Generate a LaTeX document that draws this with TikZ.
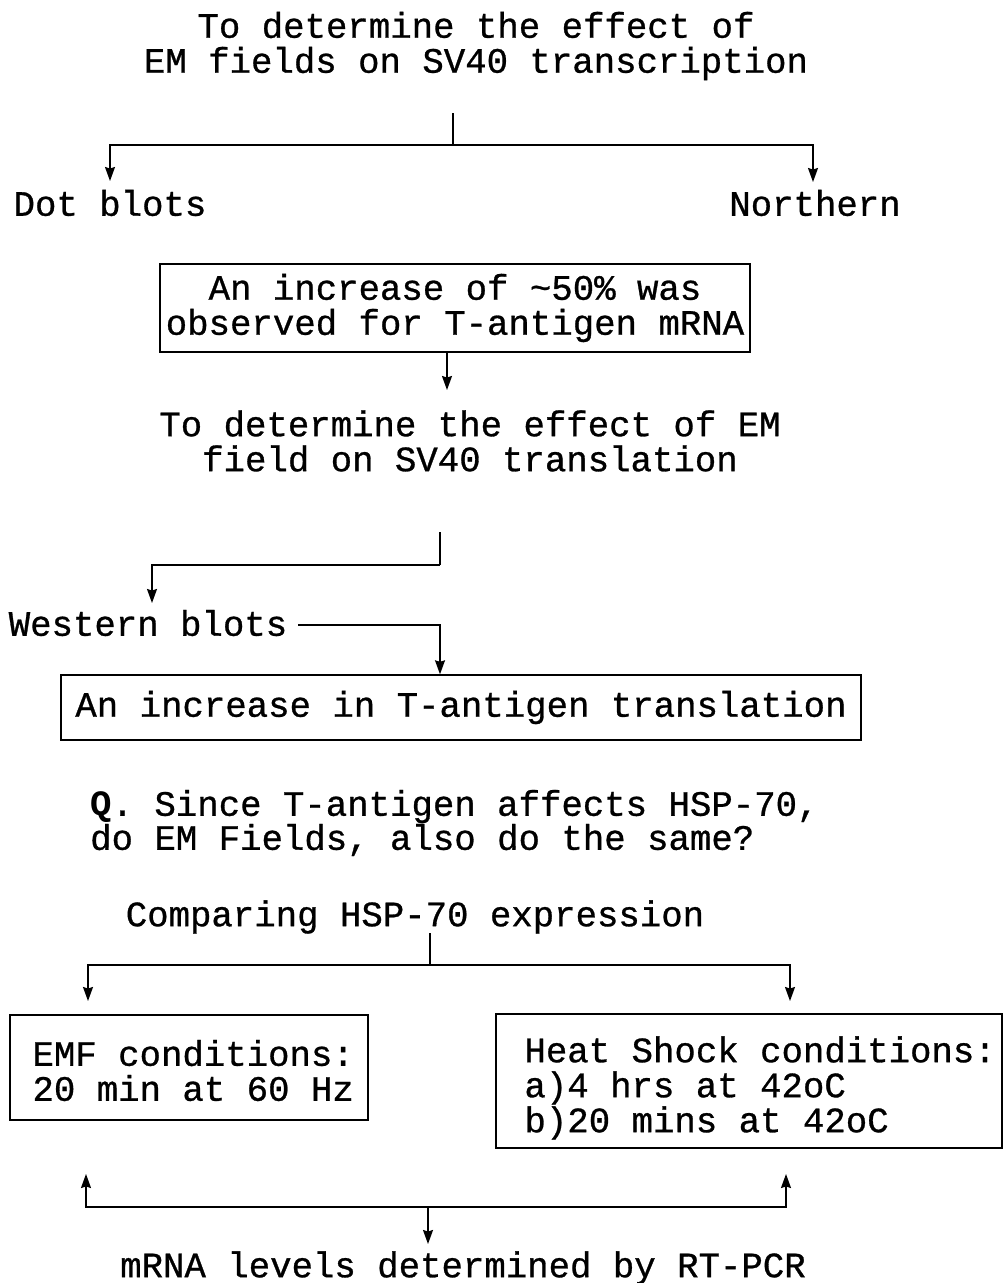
\documentclass[tikz,border=0pt]{standalone}
\usepackage{fontspec}
\setmonofont{Liberation Mono}[UprightFeatures={FakeBold=0.8}]
\usetikzlibrary{arrows.meta}
\begin{document}
\begin{tikzpicture}[x=1pt,y=-1pt,
  txt/.style={font=\ttfamily\fontsize{35.7}{35}\selectfont, inner sep=0pt, align=center},
  boxed/.style={draw, line width=1.4pt, rectangle, inner sep=0pt},
  ln/.style={line width=1.4pt},
  arr/.style={ln, -{Stealth[length=14pt,width=10pt,inset=1.5pt]}}
]
\useasboundingbox (0,0) rectangle (1004,1283);

% texts
\node[txt] (title) at (476,46) {To determine the effect of\\EM fields on SV40 transcription};
\node[txt] (dot) at (110,203) {Dot blots};
\node[txt] (north) at (815,203) {Northern};
\node[txt, boxed, minimum width=590pt, minimum height=88pt] (box1) at (455,308)
  {An increase of \textasciitilde50\% was\\observed for T-antigen mRNA};
\node[txt] (transl) at (470,441) {To determine the effect of EM\\field on SV40 translation};
\node[txt] (western) at (148,623) {Western blots};
\node[txt, boxed, minimum width=800pt, minimum height=65pt] (box2) at (461,707.5)
  {An increase in T-antigen translation};
\node[txt, align=left, anchor=west, font=\ttfamily\fontsize{35.7}{34}\selectfont] (q) at (90,823)
  {\textbf{Q}. Since T-antigen affects HSP-70,\\do EM Fields, also do the same?};
\node[txt] (comp) at (415,917) {Comparing HSP-70 expression};
\node[boxed, minimum width=358pt, minimum height=105pt] (emf) at (189,1067.5) {};
\node[txt, align=left, anchor=west] (emftxt) at ([xshift=23pt,yshift=-3pt]emf.west)
  {EMF conditions:\\20 min at 60 Hz};
\node[boxed, minimum width=506pt, minimum height=134pt] (heat) at (749,1081) {};
\node[txt, align=left, anchor=west] (heattxt) at ([xshift=29pt,yshift=-7pt]heat.west)
  {Heat Shock conditions:\\a)4 hrs at 42oC\\b)20 mins at 42oC};
\node[txt] (mrna) at (463,1268) {mRNA levels determined by RT-PCR};

% junction coordinates
\coordinate (j1a) at (453,113);
\coordinate (j1) at (453,145);
\coordinate (dotT) at (110,181);
\coordinate (norT) at (813,182);
\coordinate (b1a) at (447,390);
\coordinate (j2a) at (440,532);
\coordinate (j2) at (440,565);
\coordinate (wesT) at (152,603);
\coordinate (wesR) at (298,625);
\coordinate (j3) at (440,625);
\coordinate (j4a) at (430,933);
\coordinate (j4) at (430,965);
\coordinate (emfT) at (88,1001);
\coordinate (heatT) at (790,1001);
\coordinate (emfB) at (86,1174);
\coordinate (heatB) at (786,1174);
\coordinate (j5) at (428,1207);
\coordinate (mrnaT) at (428,1244);

% connectors
\draw[ln] (j1a) -- (j1);
\draw[arr] (j1) -| (dotT);
\draw[arr] (j1) -| (norT);
\draw[arr] (box1.south -| b1a) -- (b1a);
\draw[ln] (j2a) -- (j2);
\draw[arr] (j2) -| (wesT);
\draw[arr] (wesR) -| (box2.north -| j3);
\draw[ln] (j4a) -- (j4);
\draw[arr] (j4) -| (emfT);
\draw[arr] (j4) -| (heatT);
\draw[arr] (j5) -| (emfB);
\draw[arr] (j5) -| (heatB);
\draw[arr] (j5) -- (mrnaT);
\end{tikzpicture}
\end{document}
